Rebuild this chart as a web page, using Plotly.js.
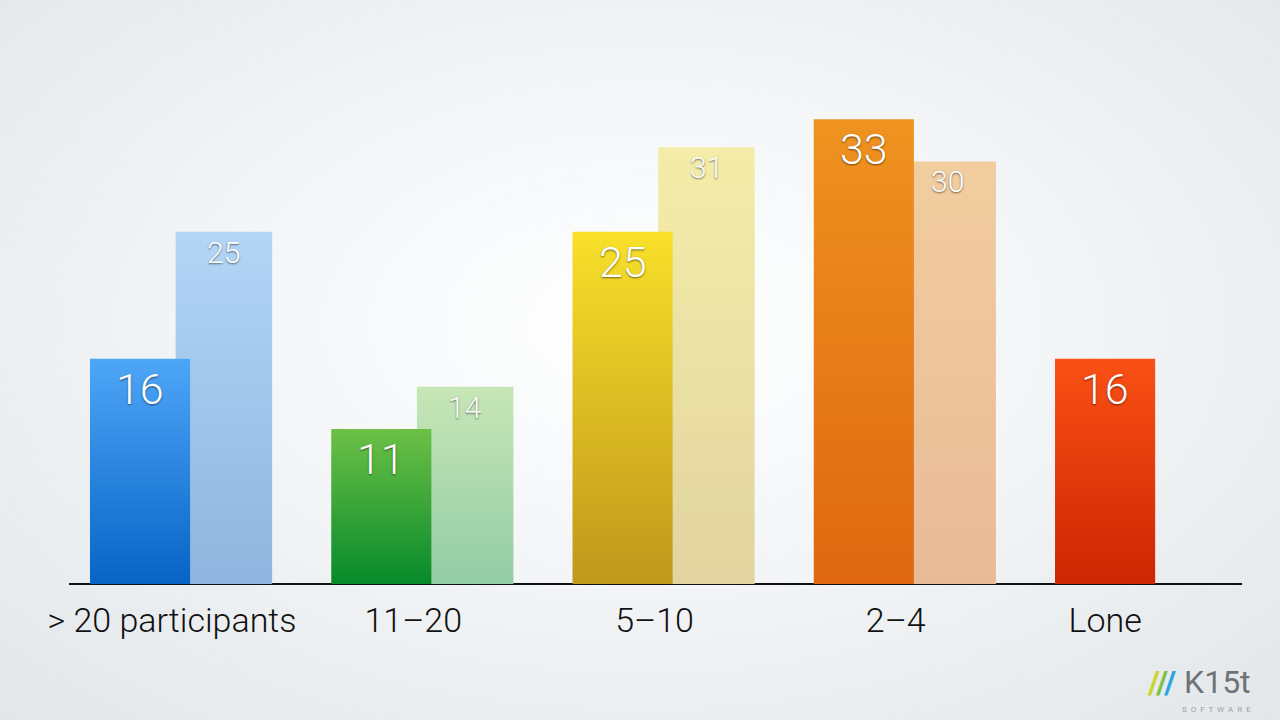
<!DOCTYPE html>
<html>
<head>
<meta charset="utf-8">
<script src="https://cdn.plot.ly/plotly-3.0.1.min.js"></script>
<style>
  html, body { margin: 0; padding: 0; width: 1280px; height: 720px; overflow: hidden; }
  body { background: radial-gradient(ellipse 75% 80% at 50% 45%, #ffffff 0%, #f4f6f7 40%, #e9ecee 75%, #e2e6e9 100%); }
  #chart { width: 1280px; height: 720px; }
</style>
</head>
<body>
<div id="chart"></div>
<script>
// ---- data ----
const categories = ["> 20 participants", "11\u201320", "5\u201310", "2\u20134", "Lone"];
const frontValues = [16, 11, 25, 33, 16];
const backValues = [25, 14, 31, 30, null];

// ---- styles ----
const frontTop = ["#4ea6f7", "#6cc046", "#f8e02a", "#ef9320", "#fa5015"];
const frontBottom = ["#0764c6", "#078a2b", "#bf981c", "#de6710", "#cc2603"];
const backTop = ["#b3d6f6", "#c7e6b6", "#f5eca9", "#f1cd9f", "#ffffff"];
const backBottom = ["#8fb5de", "#93cca6", "#e1d4a0", "#e8bb98", "#ffffff"];

const FRONT_W = 0.415, BACK_OFF = 0.355, BACK_W = 0.40;
const xs = categories.map((c, i) => i);
const tickPos = categories.map((c, i) => backValues[i] == null ? i + FRONT_W / 2 : i + 0.34);

const FONT = "'Helvetica Neue', Roboto, 'Liberation Sans', Arial, sans-serif";
const shadow = "0px 1px 2px rgba(0,0,0,0.55)";

const backTrace = {
  type: "bar", x: xs, y: backValues, width: BACK_W, offset: BACK_OFF,
  marker: { color: backTop, line: { width: 0 } }, hoverinfo: "skip", showlegend: false
};
const frontTrace = {
  type: "bar", x: xs, y: frontValues, width: FRONT_W, offset: 0,
  marker: { color: frontTop, line: { width: 0 } }, hoverinfo: "skip", showlegend: false
};

const annotations = [];
frontValues.forEach((v, i) => {
  annotations.push({
    x: i + FRONT_W / 2, y: v, xref: "x", yref: "y", yanchor: "top", yshift: -3,
    text: String(v), showarrow: false,
    font: { family: FONT, size: 43, color: "#ffffff", weight: 300, shadow: shadow }
  });
});
backValues.forEach((v, i) => {
  if (v == null) return;
  annotations.push({
    x: i + BACK_OFF + BACK_W / 2, y: v, xref: "x", yref: "y", yanchor: "top", yshift: -1,
    text: String(v), showarrow: false,
    font: { family: FONT, size: 30, color: "#ffffff", weight: 300, shadow: shadow }
  });
});
// logo
annotations.push({
  xref: "paper", yref: "paper", x: 1.009, y: -0.198, xanchor: "right", yanchor: "middle",
  text: "<b><span style='color:#c9d52b'>/</span><span style='color:#7dc243'>/</span><span style='color:#2aa6df'>/</span></b> <span style='color:#6d7478'>K15t</span>",
  showarrow: false, font: { family: FONT, size: 32, color: "#6d7478" }
});
annotations.push({
  xref: "paper", yref: "paper", x: 1.009, y: -0.255, xanchor: "right", yanchor: "middle",
  text: "S  O  F  T  W  A  R  E", showarrow: false,
  font: { family: FONT, size: 8, color: "#9aa0a4" }
});

const layout = {
  width: 1280, height: 720,
  margin: { l: 69, r: 38, t: 90.5, b: 136 },
  paper_bgcolor: "rgba(0,0,0,0)", plot_bgcolor: "rgba(0,0,0,0)",
  barmode: "overlay",
  xaxis: {
    range: [-0.087, 4.775], tickvals: tickPos, ticktext: categories,
    showgrid: false, zeroline: false, showline: false, ticks: "",
    ticklabelstandoff: 13,
    tickfont: { family: FONT, size: 34, color: "#111111", weight: 300 }
  },
  yaxis: {
    range: [0, 35], showgrid: false, zeroline: true, zerolinecolor: "#111111",
    zerolinewidth: 1.5, showticklabels: false, ticks: "", showline: false
  },
  annotations: annotations,
  showlegend: false
};

Plotly.newPlot("chart", [backTrace, frontTrace], layout, { staticPlot: true, displayModeBar: false }).then(() => {
  const svg = document.querySelector("#chart .main-svg");
  const NS = "http://www.w3.org/2000/svg";
  let defs = svg.querySelector("defs");
  if (!defs) { defs = document.createElementNS(NS, "defs"); svg.insertBefore(defs, svg.firstChild); }
  function mkGrad(id, top, bottom) {
    const g = document.createElementNS(NS, "linearGradient");
    g.setAttribute("id", id);
    g.setAttribute("x1", "0"); g.setAttribute("y1", "0");
    g.setAttribute("x2", "0"); g.setAttribute("y2", "1");
    const s1 = document.createElementNS(NS, "stop");
    s1.setAttribute("offset", "0"); s1.setAttribute("stop-color", top);
    const s2 = document.createElementNS(NS, "stop");
    s2.setAttribute("offset", "1"); s2.setAttribute("stop-color", bottom);
    g.appendChild(s1); g.appendChild(s2);
    defs.appendChild(g);
  }
  const traces = document.querySelectorAll("#chart .barlayer .trace");
  const specs = [[backTop, backBottom, "bk"], [frontTop, frontBottom, "fr"]];
  traces.forEach((tr, ti) => {
    const [tops, bots, pre] = specs[ti];
    tr.querySelectorAll(".point").forEach((pt, k) => {
      const idx = pt.__data__ && pt.__data__.i != null ? pt.__data__.i : k;
      const id = "g-" + pre + "-" + idx;
      mkGrad(id, tops[idx], bots[idx]);
      const p = pt.querySelector("path");
      if (p) p.style.fill = "url(#" + id + ")";
    });
  });
});
</script>
</body>
</html>
